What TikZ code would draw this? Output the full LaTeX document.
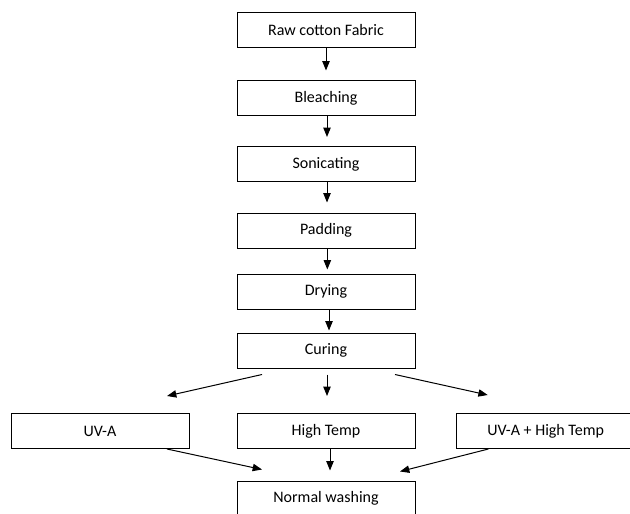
\documentclass[tikz,border=0pt]{standalone}
\usepackage{fontspec}
\setmainfont{Carlito}
\usepackage{tikz}
\usetikzlibrary{arrows.meta}

\begin{document}
\begin{tikzpicture}[x=0.75pt,y=-0.75pt,
	box/.style={draw,line width=0.75pt,minimum width=133.5pt,minimum height=26.25pt,inner sep=0pt,font=\fontsize{12}{14}\selectfont},
	arr/.style={-{Triangle[length=7pt,width=5.5pt]},line width=0.75pt}]
	\useasboundingbox (0,0) rectangle (630,513);
	\node[box] at (326,30.5) (1) {Raw cotton Fabric};
	\node[box] at (326,98.5) (2) {Bleaching};
	\node[box] at (326,164) (3) {Sonicating};
	\node[box] at (326,230.5) (4) {Padding};
	\node[box] at (326,291.5) (5) {Drying};
	\node[box] at (326,350.5) (6) {Curing};
	\node[box] at (100,431) (7) {UV-A};
	\node[box] at (326,431) (8) {High Temp};
	\node[box] at (545.7,431) (9) {UV-A + High Temp};
	\node[box] at (326,498.5) (10) {Normal washing};
	% main line
	\draw [arr,shorten >=7.5pt] (1.south) -- (2.north);
	\draw [arr,shorten >=6.75pt] ([xshift=0.75pt] 2.south) -- ([xshift=0.75pt] 3.north);
	\draw [arr,shorten >=7.5pt] ([xshift=0.75pt] 3.south) -- ([xshift=0.75pt] 4.north);
	\draw [arr,shorten >=3pt] ([xshift=1pt] 4.south) -- ([xshift=1pt] 5.north);
	\draw [arr,shorten >=1.5pt] ([xshift=2.25pt] 5.south) -- ([xshift=2.25pt] 6.north);
	% split after curing
	\draw [arr] ([shift={(-64,6)}] 6.south) -- ([shift={(67,-17)}] 7.north);
	\draw [arr] ([shift={(1,6)}] 6.south) -- ([shift={(1,-17)}] 8.north);
	\draw [arr] ([shift={(69,6)}] 6.south) -- ([shift={(-58,-18)}] 9.north);
	% to washing
	\draw [arr] ([xshift=50.25pt] 7.south) -- ([shift={(-64,-11)}] 10.north);
	\draw [arr,shorten >=7.5pt] ([xshift=3pt] 8.south) -- ([xshift=3pt] 10.north);
	\draw [arr] ([xshift=-43pt] 9.south) -- ([shift={(74,-9)}] 10.north);
\end{tikzpicture}
\end{document}
